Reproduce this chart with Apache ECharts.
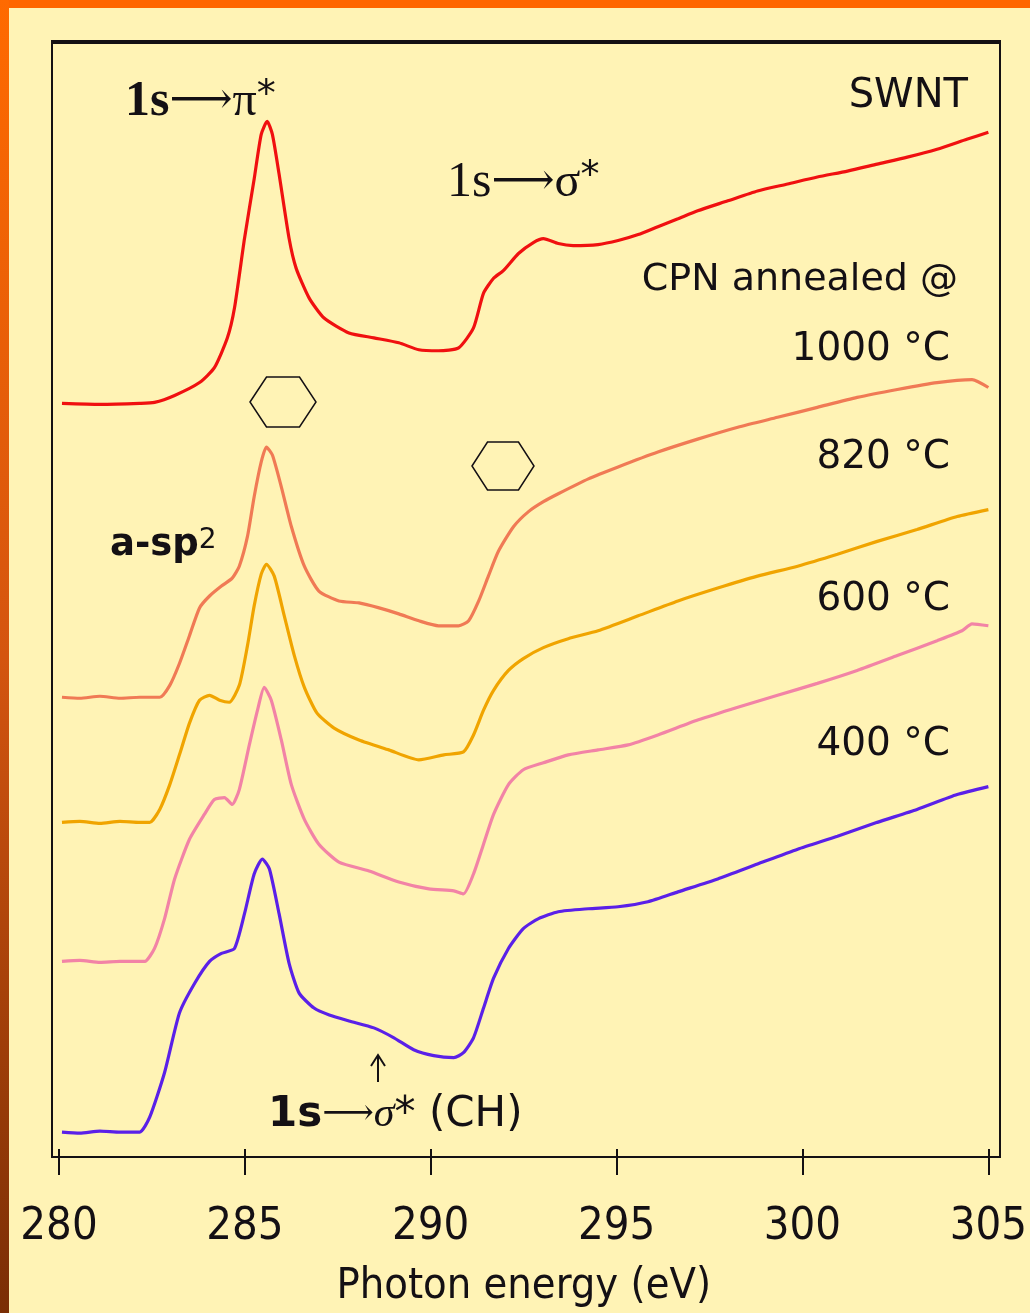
<!DOCTYPE html>
<html><head><meta charset="utf-8">
<script src="https://cdn.jsdelivr.net/npm/echarts@6/dist/echarts.min.js"></script>
<style>html,body{margin:0;padding:0;background:#FFF3B5}#c{width:1030px;height:1313px}</style>
</head><body><div id="c"></div>
<script>
// Photon energy ticks (eV)
const xTicks = [280, 285, 290, 295, 300, 305];
const seriesNames = ['SWNT', '1000 °C', '820 °C', '600 °C', '400 °C'];
const seriesColors = ['#F01010', '#F07A55', '#F0A400', '#F283A6', '#5A20E8'];

// [photon energy (eV), intensity (a.u., offset)]
const swnt1000 = [[280.08,7.51],[281.10,7.50],[282.17,7.51],[282.57,7.52],[283.11,7.59],[283.78,7.72],[284.18,7.87],[284.53,8.17],[284.72,8.47],[284.99,9.17],[285.25,9.77],[285.44,10.22],[285.60,10.35],[285.74,10.22],[285.92,9.82],[286.19,9.17],[286.38,8.87],[286.73,8.57],[287.13,8.37],[287.80,8.22],[288.47,8.17],[289.14,8.12],[289.68,8.05],[290.21,8.04],[290.75,8.07],[291.15,8.27],[291.42,8.62],[291.69,8.77],[291.96,8.85],[292.36,9.02],[292.76,9.13],[293.03,9.17],[293.43,9.12],[293.83,9.10],[294.50,9.11],[295.04,9.15],[295.58,9.21],[296.11,9.29],[296.65,9.37],[297.18,9.45],[297.99,9.55],[298.79,9.65],[299.60,9.72],[300.40,9.79],[301.21,9.85],[302.01,9.92],[302.82,9.99],[303.62,10.07],[304.42,10.17],[305.0,10.24]];
const cpn820 = [[280.08,4.55],[280.56,4.54],[281.10,4.56],[281.64,4.54],[282.17,4.55],[282.71,4.55],[282.98,4.67],[283.24,4.89],[283.51,5.17],[283.78,5.45],[284.05,5.57],[284.37,5.67],[284.66,5.75],[284.85,5.87],[285.07,6.17],[285.25,6.57],[285.44,6.92],[285.58,7.07],[285.74,6.99],[285.98,6.67],[286.25,6.27],[286.60,5.87],[286.99,5.62],[287.53,5.52],[288.07,5.50],[288.61,5.45],[289.14,5.39],[289.68,5.32],[290.21,5.27],[290.75,5.27],[291.02,5.32],[291.29,5.52],[291.55,5.77],[291.82,6.02],[292.23,6.27],[292.63,6.42],[293.03,6.52],[293.43,6.60],[294.24,6.75],[295.04,6.87],[296.11,7.02],[297.18,7.15],[298.26,7.27],[299.33,7.37],[300.40,7.47],[301.47,7.57],[302.55,7.65],[303.62,7.72],[304.56,7.75],[305.0,7.67]];
const cpn600 = [[280.08,3.29],[280.56,3.30],[281.10,3.28],[281.64,3.30],[282.17,3.29],[282.44,3.29],[282.71,3.42],[282.98,3.67],[283.24,3.97],[283.51,4.29],[283.78,4.52],[284.05,4.57],[284.32,4.52],[284.58,4.50],[284.85,4.67],[285.07,5.07],[285.25,5.47],[285.44,5.79],[285.58,5.89],[285.79,5.77],[286.06,5.37],[286.33,4.97],[286.60,4.65],[286.94,4.39],[287.40,4.24],[288.07,4.12],[288.87,4.02],[289.68,3.92],[290.35,3.97],[290.88,4.00],[291.15,4.17],[291.42,4.42],[291.69,4.62],[292.09,4.82],[292.49,4.94],[293.03,5.05],[293.70,5.14],[294.50,5.22],[295.58,5.37],[296.65,5.52],[297.72,5.65],[298.79,5.77],[299.87,5.87],[300.94,5.99],[302.01,6.12],[303.08,6.24],[304.16,6.37],[305.0,6.44]];
const cpn400 = [[280.08,1.89],[280.56,1.90],[281.10,1.88],[281.64,1.89],[282.17,1.89],[282.31,1.89],[282.57,2.02],[282.84,2.32],[283.11,2.72],[283.51,3.12],[283.91,3.37],[284.18,3.52],[284.45,3.54],[284.66,3.47],[284.85,3.62],[285.12,4.07],[285.34,4.42],[285.52,4.65],[285.71,4.52],[285.98,4.12],[286.25,3.67],[286.60,3.32],[286.99,3.07],[287.53,2.89],[288.34,2.80],[289.14,2.69],[289.95,2.62],[290.62,2.60],[290.88,2.57],[291.15,2.77],[291.42,3.07],[291.69,3.37],[292.09,3.67],[292.49,3.82],[293.03,3.89],[293.70,3.97],[294.50,4.02],[295.31,4.07],[296.11,4.17],[297.18,4.32],[298.26,4.45],[299.33,4.57],[300.40,4.69],[301.47,4.82],[302.55,4.97],[303.62,5.12],[304.29,5.22],[304.56,5.29],[305.0,5.27]];
const cpnAsPrep = [[280.08,0.17],[280.56,0.16],[281.10,0.18],[281.64,0.17],[282.17,0.17],[282.44,0.32],[282.84,0.77],[283.24,1.37],[283.65,1.67],[284.05,1.89],[284.37,1.97],[284.72,2.02],[284.99,2.37],[285.25,2.77],[285.47,2.92],[285.66,2.82],[285.92,2.37],[286.19,1.87],[286.46,1.57],[286.86,1.42],[287.27,1.35],[287.80,1.29],[288.47,1.22],[289.01,1.12],[289.54,1.00],[290.08,0.94],[290.62,0.92],[290.88,0.97],[291.15,1.12],[291.42,1.42],[291.69,1.72],[292.09,2.02],[292.49,2.22],[292.90,2.32],[293.43,2.39],[294.24,2.42],[295.04,2.44],[295.84,2.49],[296.65,2.59],[297.72,2.72],[298.79,2.87],[299.87,3.02],[300.94,3.15],[302.01,3.29],[303.08,3.42],[304.16,3.57],[305.0,3.65]];
const allData = [swnt1000, cpn820, cpn600, cpn400, cpnAsPrep];

const chart = echarts.init(document.getElementById('c'), null, {renderer: 'canvas'});
const narrow = "'Liberation Sans Narrow', 'DejaVu Sans Condensed', 'Liberation Sans', sans-serif";
const labelFont = "'DejaVu Sans', 'Liberation Sans', sans-serif";
const ink = '#141014';

function lbl(text, x, y, align, size) {
  return {type: 'text', x: x, y: y, z: 50,
    style: {text: text, fill: ink, font: size + 'px ' + labelFont, align: align, verticalAlign: 'middle'}};
}
function hexagon(cx, cy, w, h) {
  const hw = w / 2, hh = h / 2, q = w / 4;
  return {type: 'polygon', z: 50, shape: {points: [[cx - hw, cy], [cx - q, cy - hh], [cx + q, cy - hh], [cx + hw, cy], [cx + q, cy + hh], [cx - q, cy + hh]]},
    style: {fill: 'none', stroke: ink, lineWidth: 1.5}};
}

const option = {
  backgroundColor: '#FFF3B5',
  animation: false,
  grid: {left: 59, right: 38, top: 42, bottom: 156},
  xAxis: {
    type: 'value', min: xTicks[0], max: xTicks[xTicks.length - 1], interval: 5,
    axisLine: {show: false},
    axisTick: {show: true, inside: false, length: 26, lineStyle: {color: ink, width: 2}},
    axisLabel: {margin: 56, fontSize: 45, fontFamily: narrow, color: ink,
      formatter: v => xTicks.indexOf(v) >= 0 ? String(v) : ''},
    splitLine: {show: false},
    name: 'Photon energy (eV)', nameLocation: 'middle', nameGap: 116,
    nameTextStyle: {fontSize: 43, fontFamily: narrow, color: ink}
  },
  yAxis: {type: 'value', min: 0, max: 11.15, show: false},
  series: allData.map((d, i) => ({
    name: seriesNames[i], type: 'line', data: d, showSymbol: false, smooth: 0.2,
    lineStyle: {color: seriesColors[i], width: 3.2}, z: 10
  })),
  graphic: [
    {type: 'rect', z: -5, silent: true, shape: {x: 0, y: 0, width: 1030, height: 8}, style: {fill: '#FF6600'}},
    {type: 'rect', z: -5, silent: true, shape: {x: 0, y: 0, width: 9, height: 1313},
      style: {fill: new echarts.graphic.LinearGradient(0, 0, 0, 1, [{offset: 0, color: '#FF6A00'}, {offset: 0.5, color: '#D4550F'}, {offset: 1, color: '#7A2E05'}])}},
    {type: 'rect', z: 40, silent: true, shape: {x: 52, y: 42, width: 948, height: 1115}, style: {fill: 'none', stroke: ink, lineWidth: 2}},
    {type: 'line', z: 41, silent: true, shape: {x1: 51, y1: 42, x2: 1001, y2: 42}, style: {stroke: ink, lineWidth: 4}},
    {type: 'text', x: 125, y: 102, z: 50, style: {
      text: '{a|1s}{b|⟶}{c|π}{d|*}', align: 'left', verticalAlign: 'middle', fill: ink,
      rich: {a: {font: 'bold 50px "Liberation Serif", serif', fill: ink},
             b: {font: '44px "DejaVu Serif", serif', fill: ink},
             c: {font: '48px "Liberation Serif", serif', fill: ink},
             d: {font: '38px "DejaVu Sans", sans-serif', fill: ink, verticalAlign: 'top'}}}},
    {type: 'text', x: 447, y: 183, z: 50, style: {
      text: '{a|1s}{b|⟶}{c|σ}{d|*}', align: 'left', verticalAlign: 'middle', fill: ink,
      rich: {a: {font: '50px "Liberation Serif", serif', fill: ink},
             b: {font: '44px "DejaVu Serif", serif', fill: ink},
             c: {font: '48px "Liberation Serif", serif', fill: ink},
             d: {font: '38px "DejaVu Sans", sans-serif', fill: ink, verticalAlign: 'top'}}}},
    lbl('SWNT', 968, 97, 'right', 40),
    lbl('CPN annealed @', 958, 280, 'right', 38),
    lbl('1000 °C', 950, 350, 'right', 39),
    lbl('820 °C', 950, 458, 'right', 39),
    lbl('600 °C', 950, 600, 'right', 39),
    lbl('400 °C', 950, 745, 'right', 39),
    {type: 'text', x: 110, y: 545, z: 50, style: {
      text: '{a|a-sp}{b|2}', align: 'left', verticalAlign: 'middle', fill: ink,
      rich: {a: {font: 'bold 37px "DejaVu Sans", sans-serif', fill: ink},
             b: {font: '28px "DejaVu Sans", sans-serif', fill: ink, verticalAlign: 'top'}}}},
    {type: 'text', x: 268, y: 1115, z: 50, style: {
      text: '{a|1s}{b|⟶}{c|σ}{d|* (CH)}', align: 'left', verticalAlign: 'middle', fill: ink,
      rich: {a: {font: 'bold 42px "DejaVu Sans", sans-serif', fill: ink},
             b: {font: '36px "DejaVu Serif", serif', fill: ink},
             c: {font: 'italic 42px "Liberation Serif", serif', fill: ink},
             d: {font: '42px "DejaVu Sans", sans-serif', fill: ink}}}},
    {type: 'line', z: 50, shape: {x1: 378, y1: 1082, x2: 378, y2: 1056}, style: {stroke: ink, lineWidth: 2}},
    {type: 'polyline', z: 50, shape: {points: [[371, 1066], [378, 1055], [385, 1066]]}, style: {stroke: ink, lineWidth: 2, fill: 'none'}},
    hexagon(283, 402, 66, 50),
    hexagon(503, 466, 62, 48)
  ]
};
chart.setOption(option);
</script></body></html>
